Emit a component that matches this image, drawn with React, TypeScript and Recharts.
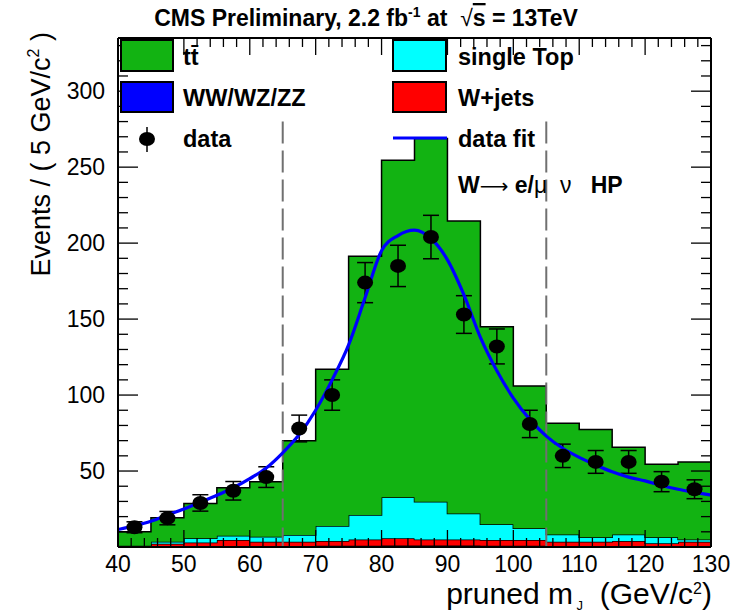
import React from "react";
import {
  ComposedChart,
  XAxis,
  YAxis,
  Area,
  Line,
  Scatter,
  ErrorBar,
  ReferenceLine,
} from "recharts";

const FONT = '"Liberation Sans", Arial, Helvetica, sans-serif';

// 5 GeV bins, low edges; 130 closes the last bin
const binEdges = [40, 45, 50, 55, 60, 65, 70, 75, 80, 85, 90, 95, 100, 105, 110, 115, 120, 125, 130];

// stacked MC, per bin (bottom to top)
const diboson = [0.1, 0.3, 0.5, 0.6, 0.6, 0.6, 0.8, 0.9, 1, 1, 1, 0.9, 0.8, 0.7, 0.6, 0.6, 0.5, 0.5];
const wjets = [0.3, 1.9, 2.5, 4.0, 2.9, 2.9, 3.2, 4.1, 4.7, 4.0, 4.0, 3.7, 3.8, 2.8, 2.9, 3.4, 1.9, 3.0];
const singleTop = [0.5, 1.2, 2.7, 2.8, 3.3, 4.4, 9.8, 16, 27, 24.8, 17, 10.4, 7.7, 4.8, 2.9, 4.3, 4.0, 1.5];
const ttbar = [9.2, 15.8, 23, 31.6, 36.2, 62.1, 103.2, 170.4, 221.9, 239, 192.5, 130, 93.7, 73.1, 71, 57.3, 48, 51];

// data
const dataMass = [42.5, 47.5, 52.5, 57.5, 62.5, 67.5, 72.5, 77.5, 82.5, 87.5, 92.5, 97.5, 102.5, 107.5, 112.5, 117.5, 122.5, 127.5];
const dataCounts = [13, 19, 29, 37, 46, 78, 100, 174, 185, 204, 153, 132, 81, 60, 56, 56, 43, 38];
const dataErrors = [3.6, 4.4, 5.4, 6.1, 6.8, 8.8, 10, 13.2, 13.6, 14.3, 12.4, 11.5, 9, 7.7, 7.5, 7.5, 6.6, 6.2];

// fitted curve
const fitMass = [40, 42.5, 45, 47.5, 50, 52.5, 55, 57.5, 60, 62.5, 65, 67.5, 70, 72.5, 75, 77.5, 80, 82.5, 85, 87.5, 90, 92.5, 95, 97.5, 100, 102.5, 105, 107.5, 110, 112.5, 115, 117.5, 120, 122.5, 125, 127.5, 130];
const fitValues = [11.5, 14, 17, 21, 25, 29.5, 34, 39, 45, 52, 62, 74, 90, 110, 133, 164, 195, 205, 208.5, 203, 189, 166, 138, 116, 98, 84, 73, 65, 59, 54, 49.5, 46, 43.5, 40.5, 38, 36, 34.2];

// signal window boundaries
const windowEdges = [65, 105];

const xMajor = [40, 50, 60, 70, 80, 90, 100, 110, 120, 130];
const yMajor = [50, 100, 150, 200, 250, 300];
const xTicks = Array.from({ length: 46 }, (_, i) => 40 + i * 2);
const yTicks = Array.from({ length: 33 }, (_, i) => 10 + i * 10);

const histData = binEdges.map((m, i) => {
  const j = Math.min(i, ttbar.length - 1);
  return { m, diboson: diboson[j], wjets: wjets[j], singleTop: singleTop[j], ttbar: ttbar[j] };
});
const pointData = dataMass.map((m, i) => ({ m, n: dataCounts[i], err: dataErrors[i] }));
const fitData = fitMass.map((m, i) => ({ m, fit: fitValues[i] }));

// ROOT-style ticks pointing into the frame
const BottomTick = (p: any) => {
  const v = p.payload.value;
  const major = xMajor.includes(v);
  return (
    <g>
      <line x1={p.x} x2={p.x} y1={p.y} y2={p.y - (major ? 17 : 9)} stroke="#000" strokeWidth={1.3} />
      {major && (
        <text x={p.x} y={p.y + 25} textAnchor="middle" fontSize={23} fontFamily={FONT} fill="#000">
          {v}
        </text>
      )}
    </g>
  );
};

const TopTick = (p: any) => {
  const major = xMajor.includes(p.payload.value);
  return <line x1={p.x} x2={p.x} y1={p.y} y2={p.y + (major ? 17 : 9)} stroke="#000" strokeWidth={1.3} />;
};

const LeftTick = (p: any) => {
  const v = p.payload.value;
  const major = yMajor.includes(v);
  return (
    <g>
      <line x1={p.x} x2={p.x + (major ? 20 : 10)} y1={p.y} y2={p.y} stroke="#000" strokeWidth={1.3} />
      {major && (
        <text x={p.x - 13} y={p.y + 8} textAnchor="end" fontSize={23} fontFamily={FONT} fill="#000">
          {v}
        </text>
      )}
    </g>
  );
};

const RightTick = (p: any) => {
  const major = yMajor.includes(p.payload.value);
  return <line x1={p.x} x2={p.x - (major ? 20 : 10)} y1={p.y} y2={p.y} stroke="#000" strokeWidth={1.3} />;
};

const DataDot = (p: any) => <ellipse cx={p.cx} cy={p.cy} rx={8} ry={7} fill="#000" />;

const frame = { stroke: "#000", strokeWidth: 2 };

const Overlay = () => (
  <svg
    width={737}
    height={614}
    style={{ position: "absolute", left: 0, top: 0, pointerEvents: "none" }}
    fontFamily={FONT}
  >
    <text x={366} y={26} textAnchor="middle" fontSize={23} fontWeight="bold" style={{ whiteSpace: "pre" }}>
      CMS Preliminary, 2.2 fb
      <tspan dy={-9} fontSize={14}>-1</tspan>
      <tspan dy={9}> at  </tspan>
      <tspan fontWeight="normal">√</tspan>
      <tspan textDecoration="overline">s</tspan> = 13TeV
    </text>

    {/* legend */}
    <rect x={121} y={40} width={52} height={31} fill="#12b312" stroke="#000" strokeWidth={2} />
    <text x={183} y={65} fontSize={23.5} fontWeight="bold">tt̄</text>
    <rect x={393} y={40} width={53} height={31} fill="#00ffff" stroke="#000" strokeWidth={2} />
    <text x={458} y={65} fontSize={23.5} fontWeight="bold">single Top</text>
    <rect x={121} y={82} width={52} height={30} fill="#0000ff" stroke="#000" strokeWidth={2} />
    <text x={183} y={106} fontSize={23.5} fontWeight="bold">WW/WZ/ZZ</text>
    <rect x={393} y={82} width={53} height={30} fill="#ff0000" stroke="#000" strokeWidth={2} />
    <text x={458} y={106} fontSize={23.5} fontWeight="bold">W+jets</text>
    <line x1={147} x2={147} y1={127} y2={152} stroke="#000" strokeWidth={1.5} />
    <ellipse cx={147} cy={139} rx={8} ry={7} fill="#000" />
    <text x={183} y={147} fontSize={23.5} fontWeight="bold">data</text>
    <line x1={393} x2={447} y1={138} y2={138} stroke="#0000ff" strokeWidth={3} />
    <text x={458} y={147} fontSize={23.5} fontWeight="bold">data fit</text>

    <text x={458} y={193} fontSize={23} style={{ whiteSpace: "pre" }}>
      <tspan fontWeight="bold">W</tspan>
      <tspan fontFamily='"DejaVu Sans", sans-serif' fontSize={20}>⟶ </tspan>
      <tspan fontWeight="bold">e/</tspan>
      <tspan>μ  ν   </tspan>
      <tspan fontWeight="bold">HP</tspan>
    </text>

    {/* axis titles */}
    <text transform="rotate(-90)" x={-32} y={50} textAnchor="end" fontSize={27}>
      Events / ( 5 GeV/c
      <tspan dy={-11} fontSize={16}>2</tspan>
      <tspan dy={11}> )</tspan>
    </text>
    <text x={712} y={604} textAnchor="end" fontSize={30} style={{ whiteSpace: "pre" }}>
      pruned m
      <tspan dy={6} fontSize={13}> J</tspan>
      <tspan dy={-6}>  (GeV/c</tspan>
      <tspan dy={-10} fontSize={16}>2</tspan>
      <tspan dy={10}>)</tspan>
    </text>
  </svg>
);

export default function App() {
  return (
    <div style={{ position: "absolute", left: 0, top: 0, width: 737, height: 614, background: "#fff" }}>
      <ComposedChart
        width={737}
        height={614}
        data={histData}
        margin={{ top: 37, right: 25, bottom: 0, left: 0 }}
      >
        <XAxis
          dataKey="m"
          type="number"
          domain={[40, 130]}
          allowDataOverflow
          ticks={xTicks}
          interval={0}
          tick={<BottomTick />}
          tickLine={false}
          tickSize={0}
          tickMargin={0}
          axisLine={frame}
          height={67}
        />
        <XAxis
          xAxisId="top"
          orientation="top"
          dataKey="m"
          type="number"
          domain={[40, 130]}
          allowDataOverflow
          ticks={xTicks}
          interval={0}
          tick={<TopTick />}
          tickLine={false}
          tickSize={0}
          tickMargin={0}
          axisLine={frame}
          height={1}
        />
        <YAxis
          type="number"
          domain={[0, 335]}
          allowDataOverflow
          ticks={yTicks}
          interval={0}
          tick={<LeftTick />}
          tickLine={false}
          tickSize={0}
          tickMargin={0}
          axisLine={frame}
          width={118}
        />
        <YAxis
          yAxisId="right"
          orientation="right"
          type="number"
          domain={[0, 335]}
          allowDataOverflow
          ticks={yTicks}
          interval={0}
          tick={<RightTick />}
          tickLine={false}
          tickSize={0}
          tickMargin={0}
          axisLine={frame}
          width={1}
        />

        <Area dataKey="diboson" stackId="mc" type="stepAfter" fill="#0000ff" fillOpacity={1} stroke="#000" strokeWidth={1.5} isAnimationActive={false} />
        <Area dataKey="wjets" stackId="mc" type="stepAfter" fill="#ff0000" fillOpacity={1} stroke="#000" strokeWidth={1.5} isAnimationActive={false} />
        <Area dataKey="singleTop" stackId="mc" type="stepAfter" fill="#00ffff" fillOpacity={1} stroke="#000" strokeWidth={1.5} isAnimationActive={false} />
        <Area dataKey="ttbar" stackId="mc" type="stepAfter" fill="#12b312" fillOpacity={1} stroke="#000" strokeWidth={1.5} isAnimationActive={false} />

        {windowEdges.map((x) => (
          <ReferenceLine
            key={x}
            segment={[{ x, y: 280 }, { x, y: 0 }]}
            stroke="#707070"
            strokeWidth={2}
            strokeDasharray="22 7"
          />
        ))}

        <Scatter data={pointData} dataKey="n" shape={<DataDot />} isAnimationActive={false}>
          <ErrorBar dataKey="err" direction="y" width={8} stroke="#000" strokeWidth={1.5} />
        </Scatter>
        <Line data={fitData} dataKey="fit" type="monotone" stroke="#0000ff" strokeWidth={3.2} dot={false} isAnimationActive={false} />
      </ComposedChart>
      <Overlay />
    </div>
  );
}
